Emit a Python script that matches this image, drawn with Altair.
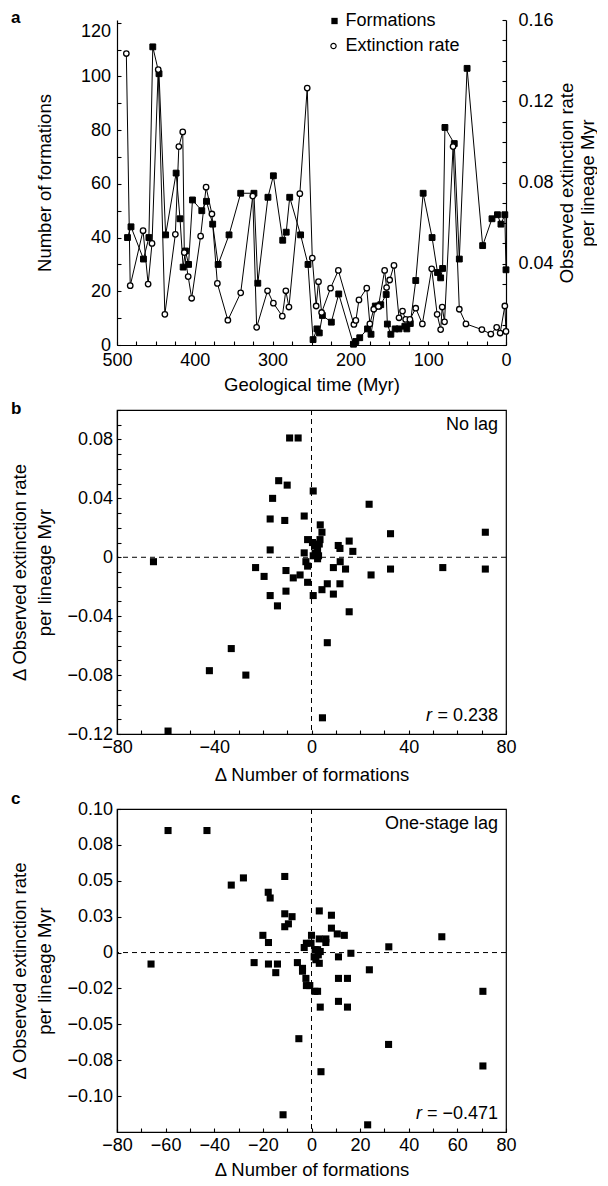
import altair as alt
import pandas as pd

FONT = "Liberation Sans"

# ---------------- data ----------------
# panel a: number of formations through time
form_myr = [486.5, 482, 466, 459, 454, 446, 437.5, 424, 419, 415, 412, 408, 403, 391, 385,
            377, 370, 356, 341, 324, 319, 306, 299, 287, 282.5, 278, 264, 254.5, 248, 243,
            240, 236, 224.5, 215, 196, 193, 188, 178, 173.5, 168, 164, 161, 154, 152.5, 148,
            142.5, 137.5, 130, 127.5, 123, 116, 106.5, 95, 88, 84, 81.5, 78.5, 66.5, 60, 50,
            30, 18, 11, 6.5, 1.5, 0]
form_n = [40, 44, 32, 40, 111, 101, 41, 64, 47, 29, 35, 30, 54, 50, 53.5,
          45, 30, 41, 56.5, 56.5, 23, 55, 63, 39, 42, 55, 41, 30, 2, 6,
          4.5, 11, 8.5, 19, 0.3, 1.3, 2.7, 6, 4, 14.5, 14.5, 15, 18.8, 7.8, 4,
          6, 6, 7, 6, 8, 24, 56.5, 40, 27, 25, 28.5, 81, 75, 32, 103,
          37, 47, 48.5, 45, 48.5, 28]

# panel a: observed extinction rate through time
ext_myr = [488, 483, 466.5, 460, 455, 447, 438.5, 425, 420.5, 415.5, 413.5, 408.5, 404,
           392.5, 385.5, 378, 371, 357.5, 341, 325.5, 320.5, 306.5, 299, 287.5, 283, 279,
           265, 255.5, 249, 244, 241, 237, 225.5, 215.5, 195.5, 193, 189, 179, 175, 170,
           164, 156, 153.5, 149.5, 144, 137.5, 133, 129, 123.5, 116, 107.5, 95.5, 88.5,
           84, 82, 79, 68, 60, 51.5, 31, 19.5, 12, 7.5, 1.5, 0]
ext_rate = [0.1435, 0.0292, 0.0563, 0.0300, 0.0500, 0.1356, 0.0151, 0.0545, 0.0977, 0.1049,
            0.0455, 0.0337, 0.0230, 0.0536, 0.0777, 0.0645, 0.0303, 0.0122, 0.0257, 0.0733,
            0.0087, 0.0267, 0.0206, 0.0142, 0.0267, 0.0187, 0.0745, 0.1265, 0.0428, 0.0192,
            0.0312, 0.0160, 0.0280, 0.0367, 0.0101, 0.0121, 0.0222, 0.0280, 0.0104, 0.0176,
            0.0190, 0.0367, 0.0283, 0.0320, 0.0392, 0.0134, 0.0167, 0.0126, 0.0126, 0.0181,
            0.0104, 0.0375, 0.0151, 0.0076, 0.0187, 0.0114, 0.0977, 0.0176, 0.0104, 0.0076,
            0.0054, 0.0087, 0.0059, 0.0192, 0.0067]

# panel b: no lag
b_dform = [-65, -59, -42, -33, -27, -23, -19.5, -17, -17, -17, -16, -14, -13.5, -11, -10.5,
           -10.5, -10, -9, -7.5, -5.5, -4.7, -3, -3, -2.3, -1.6, -1.6, -1.6, 0.7, 0.7, 0.4,
           1.5, 2.5, 0.7, 2.9, 2.5, 3.5, 3.2, 3.6, 4.3, 4.3, 4.5, 6.5, 6.5, 9, 9,
           11, 11.7, 11.8, 14, 11.7, 15.5, 17, 15.5, 23.7, 24.5, 32.5, 32.5, 54, 71.5, 71.5, 1.5]
b_dext = [-0.003, -0.118, -0.077, -0.062, -0.080, -0.007, -0.013, 0.026, 0.005, -0.026,
          0.040, -0.033, 0.052, 0.025, -0.009, -0.023, 0.049, 0.081, -0.014, 0.081,
          -0.012, 0.028, 0.003, -0.003, 0.012, -0.006, -0.017, 0.045, -0.026, 0.010,
          0.008, 0.005, 0.001, 0.001, -0.001, 0.012, 0.009, 0.022, 0.017, -0.022,
          -0.109, -0.058, -0.018, -0.007, -0.025, 0.008, 0.006, -0.003, -0.008, -0.018,
          0.011, 0.004, -0.037, 0.036, -0.012, 0.016, -0.008, -0.007, 0.017, -0.008, 0.003]

# panel c: one-stage lag
c_dform = [-66, -59, -43, -33, -28, -23.6, -20, -17.8, -17, -17.7, -17.7, -14.7, -14, -11, -11,
           -11, -9.5, -8, -11.7, -5.8, -3.7, -3.7, -5.2, -3, -2.1, -2.3, -2.1, -0.7, 0, -0.2,
           1.5, 2.5, 3.6, 1.1, 2.8, 1.8, 3.2, 1.4, 2.5, 3.6, 3.9, 3.2, 5.9, 5.9, 3.2,
           8.2, 8.2, 10.6, 13.5, 11.1, 16.2, 11.1, 14.8, 11.1, 14.8, 23.8, 23.1, 31.8, 31.7, 53.6,
           70.5, 70.5]
c_dext = [-0.008, 0.085, 0.085, 0.047, 0.052, -0.007, 0.012, 0.042, 0.038, 0.007,
          -0.008, -0.014, -0.008, 0.053, 0.027, 0.018, 0.020, 0.025, -0.113, -0.007,
          -0.011, -0.013, -0.060, 0.0035, 0.0065, -0.018, -0.023, -0.023, 0.012, 0.0065,
          0.002, 0.002, 0.0007, -0.003, -0.0016, -0.005, -0.0075, -0.027, -0.027, -0.038,
          -0.083, 0.029, 0.0095, 0.007, 0.0095, 0.026, 0.017, 0.013, 0.012, -0.003,
          -0.0005, -0.018, -0.018, -0.034, -0.038, -0.012, -0.120, 0.004, -0.064, 0.011,
          -0.027, -0.079]

# tick values / labels
time_ticks = list(range(0, 501, 25))
form_ticks = list(range(0, 121, 10))
rate_ticks = [round(i * 0.01, 2) for i in range(17)]
dform_ticks = list(range(-80, 81, 10))
b_dext_ticks = [round(-0.12 + 0.01 * i, 2) for i in range(23)]
c_dext_ticks = [-0.1, -0.075, -0.05, -0.025, 0, 0.025, 0.05, 0.075, 0.1]
c_dext_labels = ["\u22120.10", "\u22120.08", "\u22120.05", "\u22120.02", "0",
                 "0.03", "0.05", "0.08", "0.10"]

series_names = ["Formations", "Extinction rate"]
panel_letters = ["a", "b", "c"]
b_note, b_r = "No lag", "= 0.238"
c_note, c_r = "One-stage lag", "= \u22120.471"

# ---------------- layout constants ----------------
W = 389
HA, HB, HC = 325, 324, 323
LAB = 18
TIT = 18.5
LET_X = -106


def axis_kw(**kw):
    d = dict(domainColor="black", domainWidth=1.2, tickColor="black", tickWidth=1.1,
             tickSize={"expr": "-4"}, labelFont=FONT, labelFontSize=LAB, labelColor="black",
             titleFont=FONT, titleFontSize=TIT, titleFontWeight="normal", titleColor="black",
             grid=False, labelOverlap=False, labelFlush=False)
    d.update(kw)
    return alt.Axis(**d)


def text_layer(txt, x, y, align="left", size=LAB, **mk):
    return alt.Chart(pd.DataFrame({"t": [txt]})).mark_text(
        font=FONT, fontSize=size, color="black", align=align, baseline="middle", **mk
    ).encode(text="t:N", x=alt.value(x), y=alt.value(y))


def letter(txt, y):
    return text_layer(txt, LET_X, y, size=17, fontWeight="bold")

# ---------------- panel a ----------------
dfa_f = pd.DataFrame({"Myr": form_myr, "val": form_n})
dfa_e = pd.DataFrame({"Myr": ext_myr, "val": ext_rate})

x_time = alt.X("Myr:Q", scale=alt.Scale(domain=[500, 0], nice=False, zero=False),
               axis=axis_kw(values=time_ticks,
                            labelExpr="datum.value % 100 == 0 ? datum.label : ''",
                            labelPadding=10, title="Geological time (Myr)", titlePadding=6.5))
y_form = alt.Y("val:Q", scale=alt.Scale(domain=[0, 121], nice=False),
               axis=axis_kw(orient="left", values=form_ticks,
                            labelExpr="datum.value % 20 == 0 ? datum.label : ''",
                            labelPadding=10.5,
                            labelBaseline={"condition": {"test": "datum.value == 120", "value": "top"},
                                           "value": "middle"},
                            title="Number of formations", titlePadding=26))
y_rate = alt.Y("val:Q", scale=alt.Scale(domain=[0, 0.16], nice=False),
               axis=axis_kw(orient="right", values=rate_ticks,
                            labelExpr="(datum.value > 0.001 && round(datum.value * 100) % 4 == 0) ? format(datum.value, '.2f') : ''",
                            labelPadding=16,
                            title=["Observed extinction rate", "per lineage Myr"],
                            titleAngle=270, titleBaseline="top", titleX=51, titleY=HA / 2,
                            titleLineHeight=21))

line_f = alt.Chart(dfa_f).mark_line(color="black", strokeWidth=1).encode(x=x_time, y=y_form)
pts_f = alt.Chart(dfa_f).mark_point(shape="square", filled=True, color="black", size=34,
                                    stroke="black", strokeWidth=1, opacity=1).encode(
    x=x_time, y=y_form)
line_e = alt.Chart(dfa_e).mark_line(color="black", strokeWidth=1).encode(x=x_time, y=y_rate)
pts_e = alt.Chart(dfa_e).mark_point(shape="circle", filled=True, fill="white", stroke="black",
                                    strokeWidth=1.3, size=30, opacity=1).encode(
    x=x_time, y=y_rate)

# legend (inside the top-right of panel a)
LEG_SX, LEG_TX = 217.5, 228.5
leg_sq = alt.Chart(pd.DataFrame({"s": [series_names[0]]})).mark_point(
    shape="square", filled=True, color="black", size=40, opacity=1).encode(
    x=alt.value(LEG_SX), y=alt.value(1))
leg_ci = alt.Chart(pd.DataFrame({"s": [series_names[1]]})).mark_point(
    shape="circle", filled=True, fill="white", stroke="black", strokeWidth=1.2, size=28,
    opacity=1).encode(x=alt.value(LEG_SX - 1), y=alt.value(26))

panel_a = alt.layer(
    alt.layer(line_f, pts_f),
    alt.layer(line_e, pts_e),
    leg_sq, leg_ci,
    text_layer(series_names[0], LEG_TX, 1),
    text_layer(series_names[1], LEG_TX, 26),
    letter(panel_letters[0], -2.5),
).resolve_scale(y="independent").properties(
    width=W, height=HA, view=alt.ViewBackground(strokeOpacity=0))

# ---------------- panels b and c ----------------
def scatter_panel(dform, dext, H, yticks, ylabel_expr, ydomain, xstep, note, rtxt, rwidth,
                  let, let_y, xtitle_pad):
    df = pd.DataFrame({"dx": dform, "dy": dext})
    xe = alt.X("dx:Q", scale=alt.Scale(domain=[-80, 80], nice=False),
               axis=axis_kw(values=dform_ticks, labelPadding=8.7,
                            labelExpr="datum.value %% %d == 0 ? datum.label : ''" % xstep,
                            title="\u0394 Number of formations", titlePadding=xtitle_pad))
    ye = alt.Y("dy:Q", scale=alt.Scale(domain=ydomain, nice=False),
               axis=axis_kw(values=yticks, labelExpr=ylabel_expr, labelPadding=8.4,
                            title=["\u0394 Observed extinction rate", "per lineage Myr"],
                            titlePadding=12.6, titleLineHeight=25))
    vline = alt.Chart(pd.DataFrame({"dx": [0]})).mark_rule(
        color="black", strokeDash=[5, 4], strokeWidth=1).encode(x=xe)
    hline = alt.Chart(pd.DataFrame({"dy": [0]})).mark_rule(
        color="black", strokeDash=[5, 4], strokeWidth=1).encode(y=ye)
    pts = alt.Chart(df).mark_square(size=50, color="black", opacity=1).encode(x=xe, y=ye)
    rx = W - 8
    return alt.layer(
        vline, hline, pts,
        text_layer(note, rx, 15, align="right"),
        text_layer(rtxt, rx, H - 18, align="right"),
        text_layer("r", rx - rwidth - 5, H - 18, align="right", fontStyle="italic"),
        letter(let, let_y),
    ).properties(width=W, height=H,
                 view=alt.ViewBackground(stroke="black", strokeWidth=1.2))


b_label_expr = ("round(datum.value * 100) % 4 == 0 ? "
                "(datum.value == 0 ? '0' : format(datum.value, '.2f')) : ''")
c_label_expr = ("[" + ",".join("'" + s + "'" for s in c_dext_labels) + "]"
                "[round(datum.value / 0.025) + 4]")

panel_b = scatter_panel(b_dform, b_dext, HB, b_dext_ticks, b_label_expr, [-0.12, 0.10], 40,
                        b_note, b_r, 61, panel_letters[1], -1.5, 8.8)
panel_c = scatter_panel(c_dform, c_dext, HC, c_dext_ticks, c_label_expr, [-0.125, 0.10], 20,
                        c_note, c_r, 71, panel_letters[2], -10, 6)

chart = alt.vconcat(panel_a, panel_b, panel_c, spacing=4).properties(
    padding={"left": 1, "top": 0, "right": 0, "bottom": 0}, background="white"
).configure(font=FONT)

chart.save("out.html", embed_options={"renderer": "svg", "actions": False})
